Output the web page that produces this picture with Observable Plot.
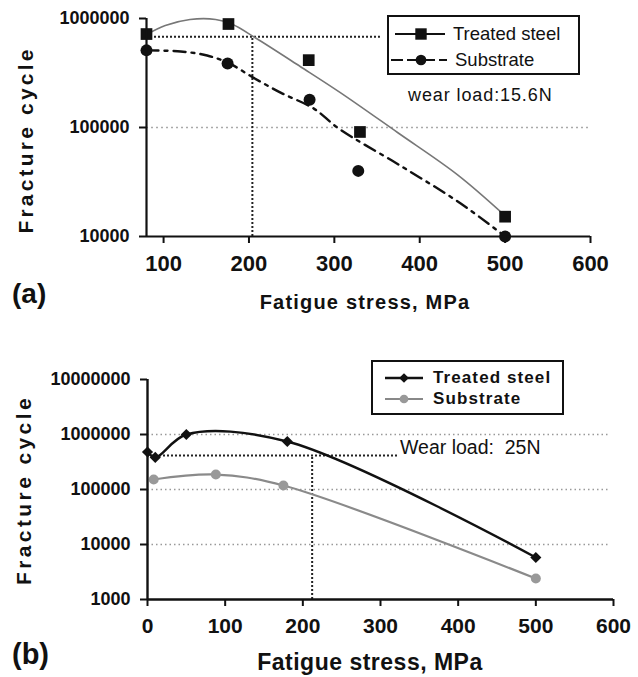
<!DOCTYPE html>
<html>
<head>
<meta charset="utf-8">
<script src="https://cdn.jsdelivr.net/npm/d3@7"></script>
<script src="https://cdn.jsdelivr.net/npm/@observablehq/plot@0.6"></script>
<style>
  html, body { margin: 0; padding: 0; background: #fff; }
  #root { position: relative; width: 638px; height: 677px; overflow: hidden; font-family: "Liberation Sans", Arial, sans-serif; color: #111; }
  #root svg { position: absolute; left: 0; overflow: visible; }
  .t { position: absolute; white-space: pre; line-height: 1; }
  .ytitle { position: absolute; white-space: pre; line-height: 1; transform: translate(-50%, -50%) rotate(-90deg); font-weight: bold; }
  .ctr { transform: translate(-50%, -50%); }
  .legend { position: absolute; border: 2px solid #111; background: #fff; box-sizing: border-box; }
  .legend .row { position: absolute; left: 0; display: flex; align-items: center; }
  .legend svg { position: static !important; }
</style>
</head>
<body>
<div id="root"></div>
<script>
// ---------- Panel (a): wear load 15.6 N ----------
const aStress    = [80, 176, 270, 330, 500];
const aTreated   = [720000, 890000, 415000, 91000, 15200];
const aSubStress = [80, 175, 271, 328, 500];
const aSubstrate = [510000, 386000, 180000, 40000, 10000];
// fitted trend curves
const aTrendTreatedX = [80, 102, 131, 161, 181, 207, 260, 307, 374, 444, 500];
const aTrendTreatedY = [713000, 863000, 979000, 979000, 881000, 669000, 363000, 209000, 90000, 37000, 15500];
const aTrendSubX = [80, 120, 151, 177, 205, 237, 276, 305, 377, 448, 500];
const aTrendSubY = [510000, 498000, 458000, 387000, 287000, 209000, 149000, 98000, 44800, 20100, 10000];
const aXTicks = [100, 200, 300, 400, 500, 600];
const aYTicks = [10000, 100000, 1000000];
const aGrid = [100000];
const aRefX = [204];       // vertical dotted reference (stress)
const aRefY = [680000];    // horizontal dotted reference (cycles)
const aRefXEnd = [354];

// ---------- Panel (b): wear load 25 N ----------
const bStress    = [0, 10, 50, 180, 500];
const bTreated   = [480000, 383000, 1000000, 746000, 5800];
const bSubStress = [8, 88, 175, 500];
const bSubstrate = [152000, 187000, 118000, 2400];
const bXTicks = [0, 100, 200, 300, 400, 500, 600];
const bYTicks = [1000, 10000, 100000, 1000000, 10000000];
const bGrid = [10000, 100000, 1000000];
const bRefX = [212];
const bRefY = [415000];
const bRefXEnd = [322];

const root = document.getElementById("root");
const tickFont = {fontFamily: "Liberation Sans Narrow, Arial Narrow, Liberation Sans, sans-serif", fontWeight: "bold"};
const yFont = {fontFamily: "Liberation Sans, Arial, sans-serif", fontWeight: "bold"};
const fmt = d => String(d);

function zip(xs, ys) { return xs.map((x, i) => ({x, y: ys[i]})); }

// Panel (a)
const plotA = Plot.plot({
  width: 638, height: 300,
  marginLeft: 146, marginRight: 48, marginTop: 18, marginBottom: 64,
  x: {domain: [80, 600]},
  y: {type: "log", domain: [10000, 1000000]},
  marks: [
    Plot.ruleY(aGrid, {stroke: "#aaa", strokeWidth: 1.5, strokeDasharray: "2,3"}),
    Plot.ruleY(aRefY, {x1: 80, x2: aRefXEnd[0], stroke: "#222", strokeWidth: 2, strokeDasharray: "2,2"}),
    Plot.ruleX(aRefX, {y1: 10000, y2: aRefY[0], stroke: "#222", strokeWidth: 2, strokeDasharray: "2,2"}),
    Plot.line(zip(aTrendTreatedX, aTrendTreatedY), {x: "x", y: "y", curve: "catmull-rom", stroke: "#777", strokeWidth: 1.6}),
    Plot.line(zip(aTrendSubX, aTrendSubY), {x: "x", y: "y", curve: "catmull-rom", stroke: "#111", strokeWidth: 2.4, strokeDasharray: "12,6,3,6"}),
    Plot.dot(zip(aStress, aTreated), {x: "x", y: "y", symbol: "square", r: 6.6, fill: "#111", stroke: "none"}),
    Plot.dot(zip(aSubStress, aSubstrate), {x: "x", y: "y", symbol: "circle", r: 6, fill: "#111", stroke: "none"}),
    Plot.ruleY([10000], {stroke: "#111", strokeWidth: 2.2}),
    Plot.ruleX([80], {stroke: "#111", strokeWidth: 2.2}),
    Plot.axisX(aXTicks, {ticks: aXTicks, tickSize: 7, tickPadding: 12, strokeWidth: 2, fontSize: 22, ...tickFont, label: null, fill: "#111"}),
    Plot.axisY(aYTicks, {ticks: aYTicks, tickSize: 7, tickPadding: 10, strokeWidth: 2, fontSize: 18, ...yFont, tickFormat: fmt, label: null, fill: "#111"})
  ]
});
plotA.style.top = "0px";
root.appendChild(plotA);

// Panel (b)
const plotB = Plot.plot({
  width: 638, height: 310,
  marginLeft: 147, marginRight: 25, marginTop: 49, marginBottom: 41,
  x: {domain: [0, 600]},
  y: {type: "log", domain: [1000, 10000000]},
  marks: [
    Plot.ruleY(bGrid, {x1: 0, x2: 595, stroke: "#999", strokeWidth: 1.5, strokeDasharray: "1.5,3"}),
    Plot.ruleY(bRefY, {x1: 0, x2: bRefXEnd[0], stroke: "#222", strokeWidth: 2, strokeDasharray: "2,2"}),
    Plot.ruleX(bRefX, {y1: 1000, y2: bRefY[0], stroke: "#222", strokeWidth: 2, strokeDasharray: "2,2"}),
    Plot.line(zip(bSubStress, bSubstrate), {x: "x", y: "y", curve: "catmull-rom", stroke: "#8a8a8a", strokeWidth: 2.2}),
    Plot.line(zip(bStress, bTreated), {x: "x", y: "y", curve: "catmull-rom", stroke: "#111", strokeWidth: 2.4}),
    Plot.dot(zip(bSubStress, bSubstrate), {x: "x", y: "y", symbol: "circle", r: 5, fill: "#999", stroke: "none"}),
    Plot.dot(zip(bStress, bTreated), {x: "x", y: "y", symbol: "diamond2", r: 5, fill: "#111", stroke: "none"}),
    Plot.ruleY([1000], {stroke: "#111", strokeWidth: 2.4}),
    Plot.ruleX([0], {stroke: "#111", strokeWidth: 2.4}),
    Plot.axisX(bXTicks, {ticks: bXTicks, tickSize: 7, tickPadding: 12, strokeWidth: 2, fontSize: 21, ...tickFont, label: null, fill: "#111"}),
    Plot.axisY(bYTicks, {ticks: bYTicks, tickSize: 7, tickPadding: 10, strokeWidth: 2, fontSize: 18, ...yFont, tickFormat: fmt, label: null, fill: "#111"})
  ]
});
plotB.style.top = "330px";
root.appendChild(plotB);

// ---------- HTML text and legends ----------
function addText(txt, cls, css) {
  const d = document.createElement("div");
  d.className = cls;
  d.textContent = txt;
  Object.assign(d.style, css);
  root.appendChild(d);
  return d;
}
addText("Fracture cycle", "ytitle", {left: "25px", top: "140px", fontSize: "21px", letterSpacing: "3.2px"});
addText("Fracture cycle", "ytitle", {left: "23px", top: "490px", fontSize: "21px", letterSpacing: "3.4px"});
addText("Fatigue stress, MPa", "t ctr", {left: "365px", top: "302px", fontSize: "20px", fontWeight: "bold", letterSpacing: "1.2px"});
addText("Fatigue stress, MPa", "t ctr", {left: "370px", top: "662px", fontSize: "23px", fontWeight: "bold", fontFamily: "Liberation Sans Narrow, Liberation Sans, sans-serif", letterSpacing: "0.5px"});
addText("(a)", "t", {left: "12px", top: "280px", fontSize: "28px", fontWeight: "bold"});
addText("(b)", "t", {left: "12px", top: "640px", fontSize: "29px", fontWeight: "bold"});
addText("wear load:15.6N", "t", {left: "408px", top: "86px", fontSize: "18px", letterSpacing: "0.9px"});
addText("Wear load:  25N", "t", {left: "400px", top: "438px", fontSize: "19.5px"});

function legend(box, items) {
  const lg = document.createElement("div");
  lg.className = "legend";
  Object.assign(lg.style, {left: box.left + "px", top: box.top + "px", width: box.w + "px", height: box.h + "px"});
  items.forEach(it => {
    const row = document.createElement("div");
    row.className = "row";
    row.style.top = it.top + "px";
    row.style.height = "20px";
    const sw = d3.create("svg").attr("width", 60).attr("height", 20);
    sw.append("line").attr("x1", it.x1).attr("x2", it.x2).attr("y1", 10).attr("y2", 10)
      .attr("stroke", it.color).attr("stroke-width", it.sw).attr("stroke-dasharray", it.dash || null);
    const sym = d3.symbol().type(it.symbol).size(it.size);
    sw.append("path").attr("d", sym()).attr("transform", `translate(${it.cx},10)`).attr("fill", it.fill);
    row.appendChild(sw.node());
    const tx = document.createElement("span");
    tx.textContent = it.label;
    Object.assign(tx.style, it.font);
    row.appendChild(tx);
    lg.appendChild(row);
  });
  root.appendChild(lg);
}
legend({left: 387, top: 15, w: 193, h: 60}, [
  {top: 7, x1: 6, x2: 56, cx: 32, color: "#111", sw: 2, symbol: d3.symbolSquare, size: 130, fill: "#111", label: "Treated steel", font: {fontSize: "18.5px", marginLeft: "4px"}},
  {top: 33, x1: 2, x2: 58, cx: 32, color: "#111", sw: 2, dash: "12,4", symbol: d3.symbolCircle, size: 90, fill: "#111", label: "Substrate", font: {fontSize: "18.5px", marginLeft: "6px"}}
]);
legend({left: 371, top: 360, w: 193, h: 55}, [
  {top: 6, x1: 12, x2: 50, cx: 31, color: "#111", sw: 2.4, symbol: d3.symbolDiamond2, size: 60, fill: "#111", label: "Treated steel", font: {fontSize: "17px", fontWeight: "bold", letterSpacing: "1.1px"}},
  {top: 27, x1: 12, x2: 50, cx: 31, color: "#888", sw: 2.2, symbol: d3.symbolCircle, size: 60, fill: "#999", label: "Substrate", font: {fontSize: "17px", fontWeight: "bold", letterSpacing: "1.1px"}}
]);
</script>
</body>
</html>
